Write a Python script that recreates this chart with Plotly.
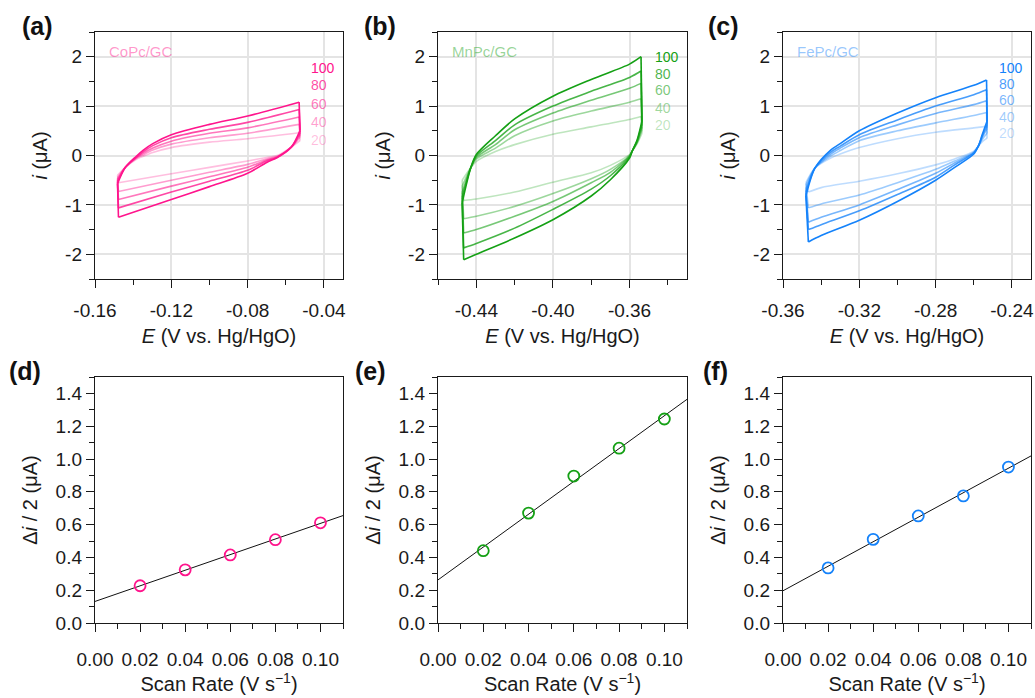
import numpy as np
import plotly.graph_objects as go

# ---------------- data ----------------
SCAN_RATES = [20, 40, 60, 80, 100]  # mV/s

# (a) CoPc/GC  - anodic branch (left vertex -> right vertex)
CO_E_AN = [-0.1477, -0.1482, -0.1441, -0.1385, -0.135, -0.1297, -0.12, -0.10, -0.08, -0.053]
CO_I_AN = [
    [-0.55, -0.40, -0.24, -0.08, -0.02, 0.06, 0.16, 0.27, 0.34, 0.46],
    [-0.73, -0.45, -0.24, -0.06, 0.01, 0.11, 0.23, 0.36, 0.45, 0.63],
    [-0.89, -0.49, -0.24, -0.05, 0.04, 0.15, 0.29, 0.45, 0.56, 0.78],
    [-1.06, -0.53, -0.24, -0.04, 0.07, 0.20, 0.36, 0.53, 0.67, 0.93],
    [-1.25, -0.57, -0.24, -0.02, 0.10, 0.24, 0.42, 0.63, 0.80, 1.08],
]
# (a) cathodic branch (right vertex -> left vertex)
CO_E_CA = [-0.0525, -0.0571, -0.0645, -0.07, -0.08, -0.10, -0.12, -0.1477]
CO_I_CA = [
    [0.30, 0.17, 0.00, -0.04, -0.11, -0.24, -0.37, -0.55],
    [0.37, 0.17, -0.02, -0.07, -0.18, -0.34, -0.50, -0.73],
    [0.42, 0.17, -0.03, -0.09, -0.24, -0.43, -0.62, -0.89],
    [0.46, 0.17, -0.04, -0.11, -0.30, -0.52, -0.74, -1.06],
    [0.51, 0.17, -0.04, -0.14, -0.36, -0.63, -0.89, -1.25],
]

# (b) MnPc/GC
MN_E_AN = [-0.4466, -0.4474, -0.4429, -0.44, -0.43, -0.42, -0.40, -0.38, -0.36, -0.354]
MN_I_AN = [
    [-0.91, -0.50, -0.25, -0.12, 0.08, 0.22, 0.43, 0.58, 0.73, 0.79],
    [-1.28, -0.62, -0.25, -0.07, 0.15, 0.40, 0.70, 0.90, 1.08, 1.15],
    [-1.57, -0.75, -0.25, -0.04, 0.22, 0.52, 0.86, 1.12, 1.36, 1.46],
    [-1.87, -0.85, -0.25, -0.01, 0.30, 0.62, 1.00, 1.30, 1.58, 1.71],
    [-2.11, -0.96, -0.25, 0.02, 0.40, 0.74, 1.20, 1.54, 1.85, 2.00],
]
MN_E_CA = [-0.3535, -0.356, -0.3586, -0.36, -0.37, -0.38, -0.40, -0.42, -0.44, -0.4466]
MN_I_CA = [
    [0.45, 0.24, 0.09, 0.02, -0.20, -0.35, -0.54, -0.74, -0.88, -0.91],
    [0.52, 0.26, 0.09, 0.00, -0.28, -0.47, -0.77, -1.03, -1.23, -1.28],
    [0.58, 0.28, 0.09, -0.01, -0.34, -0.55, -0.93, -1.23, -1.50, -1.57],
    [0.64, 0.30, 0.09, -0.03, -0.41, -0.68, -1.09, -1.47, -1.78, -1.87],
    [0.70, 0.32, 0.09, -0.05, -0.49, -0.82, -1.30, -1.67, -2.00, -2.11],
]

# (c) FePc/GC
FE_E_AN = [-0.3467, -0.3480, -0.3432, -0.335, -0.33, -0.32, -0.30, -0.28, -0.26, -0.2533]
FE_I_AN = [
    [-0.74, -0.55, -0.25, -0.05, 0.03, 0.16, 0.34, 0.47, 0.56, 0.59],
    [-1.06, -0.60, -0.25, -0.01, 0.10, 0.30, 0.50, 0.66, 0.81, 0.87],
    [-1.35, -0.68, -0.25, 0.03, 0.15, 0.36, 0.62, 0.85, 1.03, 1.11],
    [-1.50, -0.75, -0.25, 0.07, 0.19, 0.42, 0.72, 1.00, 1.23, 1.33],
    [-1.75, -0.82, -0.25, 0.11, 0.24, 0.50, 0.86, 1.17, 1.42, 1.53],
]
FE_E_CA = [-0.2530, -0.2555, -0.2576, -0.26, -0.27, -0.28, -0.30, -0.32, -0.34, -0.3467]
FE_I_CA = [
    [0.35, 0.28, 0.19, 0.09, -0.07, -0.19, -0.37, -0.52, -0.65, -0.74],
    [0.45, 0.33, 0.19, 0.07, -0.11, -0.28, -0.55, -0.80, -0.98, -1.06],
    [0.55, 0.37, 0.19, 0.06, -0.15, -0.36, -0.69, -1.00, -1.25, -1.35],
    [0.62, 0.40, 0.19, 0.05, -0.19, -0.44, -0.79, -1.12, -1.40, -1.50],
    [0.70, 0.43, 0.19, 0.03, -0.24, -0.50, -0.93, -1.31, -1.62, -1.75],
]

# (d)-(f) half capacitive current difference vs scan rate
SCAN_RATE_VS = [0.02, 0.04, 0.06, 0.08, 0.10]
CO_HALF_DI = [0.227, 0.324, 0.415, 0.508, 0.611]
MN_HALF_DI = [0.441, 0.670, 0.896, 1.066, 1.244]
FE_HALF_DI = [0.336, 0.510, 0.653, 0.775, 0.951]

SAMPLES = ["CoPc/GC", "MnPc/GC", "FePc/GC"]
PANEL_TAGS = ["(a)", "(b)", "(c)", "(d)", "(e)", "(f)"]

CV_XTICKS = [[-0.16, -0.12, -0.08, -0.04], [-0.44, -0.40, -0.36], [-0.36, -0.32, -0.28, -0.24]]
CV_XTEXT = [["-0.16", "-0.12", "-0.08", "-0.04"], ["-0.44", "-0.40", "-0.36"], ["-0.36", "-0.32", "-0.28", "-0.24"]]
CV_YTICKS = [-2, -1, 0, 1, 2]
CV_YTEXT = ["-2", "-1", "0", "1", "2"]
SR_XTICKS = [0.00, 0.02, 0.04, 0.06, 0.08, 0.10]
SR_XTEXT = ["0.00", "0.02", "0.04", "0.06", "0.08", "0.10"]
SR_YTICKS = [0.0, 0.2, 0.4, 0.6, 0.8, 1.0, 1.2, 1.4]
SR_YTEXT = ["0.0", "0.2", "0.4", "0.6", "0.8", "1.0", "1.2", "1.4"]

# ---------------- style / layout ----------------
W, H = 1035, 698
FONT = "Arial, Liberation Sans, sans-serif"
BASE = ["255,20,140", "20,160,20", "20,130,250"]
ALPHA = {20: 0.28, 40: 0.42, 60: 0.58, 80: 0.78, 100: 1.0}
CV_XRANGES = [[-0.16, -0.03], [-0.46, -0.33], [-0.36, -0.23]]
COLS_PX = [(95, 343), (438, 687), (783, 1031)]
TOP_PX = (32, 279)
BOT_PX = (377, 623)
LABEL_X = [-0.0478, -0.348, -0.2477]
LABEL_Y = [[0.31, 0.67, 1.04, 1.42, 1.78], [0.62, 0.96, 1.32, 1.66, 1.99], [0.46, 0.78, 1.13, 1.45, 1.77]]
TAG_POS = [(37, 26), (380, 26), (723, 26), (25, 371), (370, 371), (715, 371)]


def dom_x(l, r):
    return [l / W, r / W]


def dom_y(t, b):
    return [1 - b / H, 1 - t / H]


cv_sets = [
    (CO_E_AN, CO_I_AN, CO_E_CA, CO_I_CA),
    (MN_E_AN, MN_I_AN, MN_E_CA, MN_I_CA),
    (FE_E_AN, FE_I_AN, FE_E_CA, FE_I_CA),
]
sr_sets = [CO_HALF_DI, MN_HALF_DI, FE_HALF_DI]

fig = go.Figure()
annotations = []

axis_common = dict(
    showline=True, linecolor="#1a1a1a", linewidth=1.4, mirror=True,
    ticks="outside", ticklen=8, tickwidth=1.3, tickcolor="#1a1a1a",
    tickfont=dict(family=FONT, size=19, color="#1a1a1a"),
    zeroline=False, automargin=False,
    title_font=dict(family=FONT, size=20, color="#1a1a1a"),
)


def add_piece(xs, ys, col, xa, ya, shape):
    fig.add_trace(go.Scatter(
        x=xs, y=ys, mode="lines",
        line=dict(color=col, width=1.6, shape=shape, smoothing=0.8),
        xaxis=xa, yaxis=ya, showlegend=False, hoverinfo="skip"))


layout_axes = {}
for p in range(3):
    ea, ia, ec, ic = cv_sets[p]
    xa = "x" if p == 0 else f"x{p + 1}"
    ya = "y" if p == 0 else f"y{p + 1}"
    for k, rate in enumerate(SCAN_RATES):
        col = f"rgba({BASE[p]},{ALPHA[rate]})"
        # loop: left vertical, anodic branch, right vertical, cathodic branch
        xs = list(ea) + list(ec)
        ys = list(ia[k]) + list(ic[k])
        na = len(ea)
        add_piece(xs[0:2], ys[0:2], col, xa, ya, "linear")
        add_piece(xs[1:na], ys[1:na], col, xa, ya, "spline")
        add_piece(xs[na - 1:na + 1], ys[na - 1:na + 1], col, xa, ya, "linear")
        add_piece(xs[na:], ys[na:], col, xa, ya, "spline")
        annotations.append(dict(
            x=LABEL_X[p], y=LABEL_Y[p][k], xref=xa, yref=ya, text=str(rate),
            showarrow=False, xanchor="left", yanchor="middle",
            font=dict(family=FONT, size=14, color=col)))
    annotations.append(dict(
        x=0.048, y=0.92, xref=f"{xa} domain", yref=f"{ya} domain", text=SAMPLES[p],
        showarrow=False, xanchor="left", yanchor="middle",
        font=dict(family=FONT, size=15, color=f"rgba({BASE[p]},0.45)")))

    kx = "xaxis" if p == 0 else f"xaxis{p + 1}"
    ky = "yaxis" if p == 0 else f"yaxis{p + 1}"
    layout_axes[kx] = dict(
        axis_common, domain=dom_x(*COLS_PX[p]), anchor=ya, range=CV_XRANGES[p],
        tickmode="array", tickvals=CV_XTICKS[p], ticktext=CV_XTEXT[p],
        showgrid=True, gridcolor="#e4e4e4", gridwidth=1.5,
        minor=dict(ticks="outside", ticklen=5, tickcolor="#1a1a1a", tickwidth=1.2,
                   tickmode="linear", tick0=CV_XRANGES[p][0], dtick=0.02, showgrid=False),
        ticklabelstandoff=6,
        title=dict(text="<i>E</i> (V vs. Hg/HgO)", standoff=8))
    layout_axes[ky] = dict(
        axis_common, domain=dom_y(*TOP_PX), anchor=xa, range=[-2.5, 2.5],
        tickmode="array", tickvals=CV_YTICKS, ticktext=CV_YTEXT,
        showgrid=True, gridcolor="#e4e4e4", gridwidth=1.5,
        minor=dict(ticks="outside", ticklen=5, tickcolor="#1a1a1a", tickwidth=1.2,
                   tickmode="linear", tick0=-2.5, dtick=0.5, showgrid=False),
        title=dict(text="<i>i</i> (μA)", standoff=12))

for p in range(3):
    q = p + 4
    xa, ya = f"x{q}", f"y{q}"
    vals = sr_sets[p]
    slope, icpt = np.polyfit(SCAN_RATE_VS, vals, 1)
    xr = [0.0, 0.11]
    fig.add_trace(go.Scatter(
        x=xr, y=[icpt + slope * v for v in xr], mode="lines",
        line=dict(color="#111111", width=1), xaxis=xa, yaxis=ya,
        showlegend=False, hoverinfo="skip"))
    fig.add_trace(go.Scatter(
        x=SCAN_RATE_VS, y=vals, mode="markers",
        marker=dict(symbol="circle-open", size=11, color=f"rgb({BASE[p]})",
                    line=dict(width=1.8, color=f"rgb({BASE[p]})")),
        xaxis=xa, yaxis=ya, showlegend=False))
    layout_axes[f"xaxis{q}"] = dict(
        axis_common, domain=dom_x(*COLS_PX[p]), anchor=ya, range=xr,
        tickmode="array", tickvals=SR_XTICKS, ticktext=SR_XTEXT, showgrid=False,
        minor=dict(ticks="outside", ticklen=5, tickcolor="#1a1a1a", tickwidth=1.2,
                   tickmode="linear", tick0=0, dtick=0.01, showgrid=False),
        ticklabelstandoff=11,
        title=dict(text="Scan Rate (V s<sup>−1</sup>)", standoff=6))
    layout_axes[f"yaxis{q}"] = dict(
        axis_common, domain=dom_y(*BOT_PX), anchor=xa, range=[0, 1.5],
        tickmode="array", tickvals=SR_YTICKS, ticktext=SR_YTEXT, showgrid=False,
        minor=dict(ticks="outside", ticklen=5, tickcolor="#1a1a1a", tickwidth=1.2,
                   tickmode="linear", tick0=0, dtick=0.1, showgrid=False),
        title=dict(text="Δ<i>i</i> / 2 (μA)", standoff=12))

for tag, (px, py) in zip(PANEL_TAGS, TAG_POS):
    annotations.append(dict(
        x=px / W, y=1 - py / H, xref="paper", yref="paper", text=f"<b>{tag}</b>",
        showarrow=False, xanchor="center", yanchor="middle",
        font=dict(family=FONT, size=25, color="#111111")))

fig.update_layout(
    width=W, height=H, margin=dict(l=0, r=0, t=0, b=0),
    paper_bgcolor="white", plot_bgcolor="white",
    annotations=annotations, showlegend=False, **layout_axes)

fig.write_html("out.html")
